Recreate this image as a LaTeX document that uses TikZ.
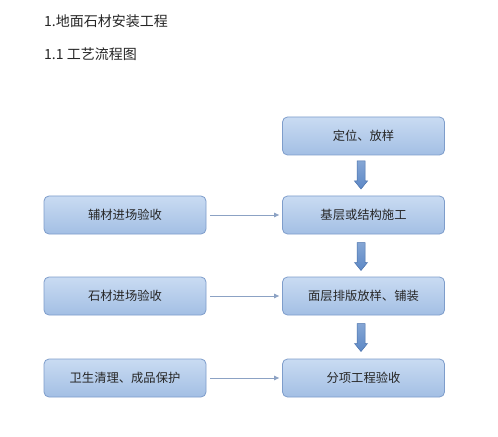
\documentclass[tikz,border=0pt]{standalone}
\usepackage{fontspec}
\setmainfont{Noto Sans CJK SC}
\usetikzlibrary{arrows.meta}
\definecolor{boxtop}{HTML}{C9DBF2}
\definecolor{boxbot}{HTML}{A3BFE4}
\definecolor{boxline}{HTML}{7E9DCB}
\definecolor{harrow}{HTML}{8CA2C4}
\definecolor{darrow}{HTML}{5C88C6}
\definecolor{darrowline}{HTML}{4870AA}
\tikzset{
  flowbox/.style={draw=boxline, line width=0.8bp, rounded corners=5bp, top color=boxtop, bottom color=boxbot,
    minimum width=162bp, minimum height=38bp, inner sep=0pt, font=\fontsize{12.3bp}{14bp}\selectfont, text=black!85},
  harr/.style={draw=harrow, line width=0.8bp, -{Triangle[length=5bp,width=4.5bp]}},
  darr/.style={draw=darrowline, line width=0.5bp, top color=darrow!75, bottom color=darrow},
  heading/.style={anchor=west, inner sep=0pt, font=\fontsize{14bp}{16bp}\selectfont, text=black!85}
}
\newcommand{\downarrowshape}[1]{%
  \path[darr] ($(#1)+(-4,-14)$) -- ($(#1)+(4,-14)$) -- ($(#1)+(4,6)$) -- ($(#1)+(6.5,6)$)
    -- ($(#1)+(0,14)$) -- ($(#1)+(-6.5,6)$) -- ($(#1)+(-4,6)$) -- cycle;}
\usetikzlibrary{calc}
\begin{document}
\begin{tikzpicture}[x=1bp,y=-1bp]
\useasboundingbox (0,0) rectangle (498,437);
\fill[white] (0,0) rectangle (498,437);
\node[heading] (t1) at (44,21) {1.地面石材安装工程};
\node[heading] (t2) at (44,54) {1.1 工艺流程图};

\node[flowbox] (r1) at (363.5,136) {定位、放样};
\node[flowbox] (r2) at (363.5,215) {基层或结构施工};
\node[flowbox] (r3) at (363.5,296) {面层排版放样、铺装};
\node[flowbox] (r4) at (363.5,378) {分项工程验收};

\node[flowbox] (l2) at (125,215) {辅材进场验收};
\node[flowbox] (l3) at (125,296) {石材进场验收};
\node[flowbox] (l4) at (125,378) {卫生清理、成品保护};

\coordinate (a1) at (361,175);
\coordinate (a2) at (361,256.5);
\coordinate (a3) at (361,337.5);
\downarrowshape{a1}
\downarrowshape{a2}
\downarrowshape{a3}

\draw[harr] ([xshift=4bp]l2.east) -- ([xshift=-3bp]r2.west);
\draw[harr] ([xshift=4bp]l3.east) -- ([xshift=-3bp]r3.west);
\draw[harr] ([xshift=4bp]l4.east) -- ([xshift=-3bp]r4.west);
\end{tikzpicture}
\end{document}
